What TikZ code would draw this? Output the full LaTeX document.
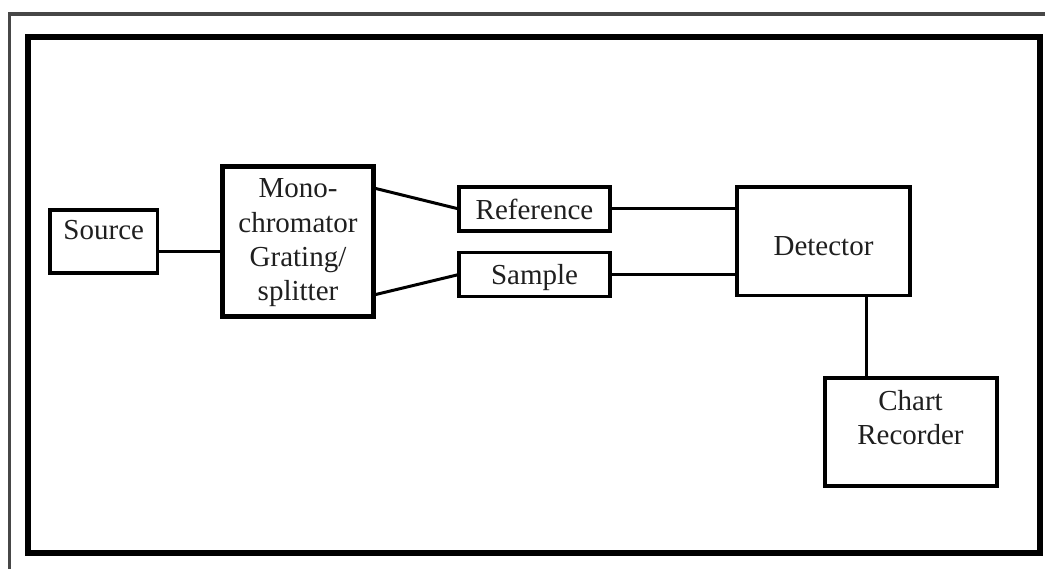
\documentclass[tikz,border=0pt]{standalone}
\usepackage{fontspec}
\setmainfont{Liberation Serif}
\usetikzlibrary{calc}
\begin{document}
\begin{tikzpicture}[x=1pt,y=-1pt,
  box/.style={draw=black, line width=3.5pt, rectangle, inner sep=0pt, outer sep=0pt, fill=white},
  wire/.style={draw=black, line width=3pt},
  lbl/.style={inner sep=0pt, anchor=base, font=\fontsize{29}{34}\selectfont, text=black!88}]
\useasboundingbox (0,0) rectangle (1045,569);
\fill[white] (0,0) rectangle (1045,569);
% page frame and panel frame
\draw[line width=3.5pt, draw=black!72] (9.5,569) -- (9.5,14) -- (1045,14);
\draw[line width=5.5pt] (28,37) rectangle (1040,553);

% blocks
\node[box, minimum width=107.5pt, minimum height=63pt] (source) at (103.75,241.5) {};
\node[box, line width=5pt, minimum width=151pt, minimum height=150pt] (mono) at (298,241.5) {};
\node[box, minimum width=151pt, minimum height=44pt] (ref) at (534.5,209) {};
\node[box, minimum width=151pt, minimum height=44pt] (sample) at (534.5,274.5) {};
\node[box, minimum width=173pt, minimum height=108.5pt] (det) at (823.5,241.25) {};
\node[box, line width=4pt, minimum width=172pt, minimum height=108pt] (chart) at (910.5,432) {};

% labels
\node[lbl] (sourceT) at (103.75,240) {Source};
\node[lbl] (monoT1) at (298,198) {Mono-};
\node[lbl] (monoT2) at (298,233) {chromator};
\node[lbl] (monoT3) at (298,267) {Grating/};
\node[lbl] (monoT4) at (298,301) {splitter};
\node[lbl] (refT) at (534.5,220) {Reference};
\node[lbl] (sampleT) at (534.5,285) {Sample};
\node[lbl] (detT) at (823.5,256) {Detector};
\node[lbl] (chartT1) at (910.5,410) {Chart};
\node[lbl] (chartT2) at (910.5,445) {Recorder};

% connections
\coordinate (srcOut) at ($(source.north east)!0.66!(source.south east)$);
\draw[wire] (srcOut) -- (srcOut -| mono.west);
\draw[wire] ($(mono.north east)!0.143!(mono.south east)$) -- (ref.west);
\draw[wire] ($(mono.north east)!0.857!(mono.south east)$) -- (sample.west);
\draw[wire] (ref.east) -- (ref.east -| det.west);
\draw[wire] (sample.east) -- (sample.east -| det.west);
\coordinate (detOut) at ($(det.south west)!0.75!(det.south east)$);
\draw[wire] (detOut) -- (detOut |- chart.north);
\end{tikzpicture}
\end{document}
